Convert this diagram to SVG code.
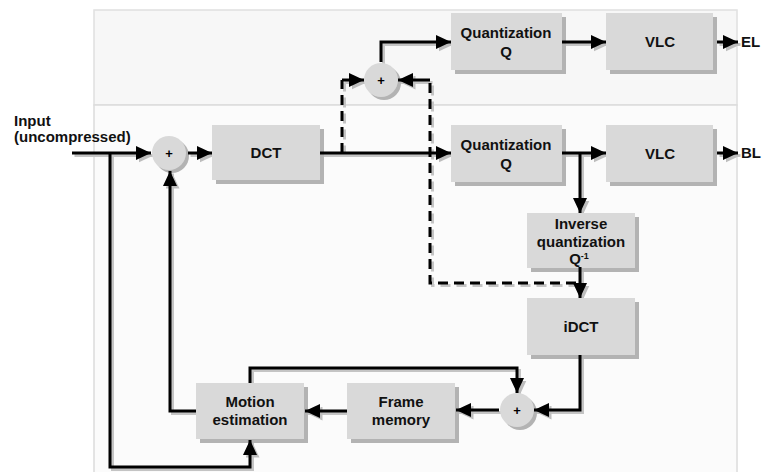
<svg xmlns="http://www.w3.org/2000/svg" width="762" height="472" viewBox="0 0 762 472">
<defs>
<marker id="ah" markerUnits="userSpaceOnUse" markerWidth="16" markerHeight="14" refX="15" refY="7" orient="auto">
<path d="M0,0 L15,7 L0,14 Z" fill="#000"/>
</marker>
<marker id="ahs" markerUnits="userSpaceOnUse" markerWidth="16" markerHeight="14" refX="15" refY="7" orient="auto">
<path d="M0,0 L15,7 L0,14 Z" fill="#bdbdbd"/>
</marker>
</defs>
<style>
.box{fill:#d9d9d9}
.sh{fill:#b3b3b3}
.t{font-family:"Liberation Sans",Arial,sans-serif;font-weight:bold;font-size:15px;fill:#111;text-anchor:middle}
.lbl{font-family:"Liberation Sans",Arial,sans-serif;font-weight:bold;font-size:15px;fill:#111}
.c{fill:none;stroke:#000;stroke-width:3}
.cs{fill:none;stroke:#c4c4c4;stroke-width:3}
.d{stroke-dasharray:10,6}
.plus{font-family:"Liberation Sans",Arial,sans-serif;font-weight:bold;font-size:13px;fill:#000;text-anchor:middle}
</style>
<rect x="0" y="0" width="762" height="472" fill="#fff"/>
<rect x="94" y="10" width="643" height="95" fill="#f7f7f7" stroke="#e0e0e0" stroke-width="1.5"/>
<rect x="94" y="105" width="643" height="380" fill="#fbfbfb" stroke="#dcdcdc" stroke-width="1.5"/>

<g id="connectors-shadow" transform="translate(2.5,2.5)">
<path class="cs" d="M72 153 H151" marker-end="url(#ahs)"/>
<path class="cs" d="M110 153 V467 H250 V440" marker-end="url(#ahs)"/>
<path class="cs" d="M196 411 H170 V171" marker-end="url(#ahs)"/>
<path class="cs" d="M188 153 H212" marker-end="url(#ahs)"/>
<path class="cs" d="M320 153 H451" marker-end="url(#ahs)"/>
<path class="cs d" d="M342 153 V80"/>
<path class="cs" d="M342 80 H364" marker-end="url(#ahs)"/>
<path class="cs" d="M381 62 V42 H451" marker-end="url(#ahs)"/>
<path class="cs" d="M562 42 H606" marker-end="url(#ahs)"/>
<path class="cs" d="M717 42 H738" marker-end="url(#ahs)"/>
<path class="cs" d="M562 153 H606" marker-end="url(#ahs)"/>
<path class="cs" d="M580 153 V213" marker-end="url(#ahs)"/>
<path class="cs" d="M717 153 H738" marker-end="url(#ahs)"/>
<path class="cs" d="M580 267 V298" marker-end="url(#ahs)"/>
<path class="cs d" d="M576 283 H430 V80"/>
<path class="cs" d="M430 80 H398" marker-end="url(#ahs)"/>
<path class="cs" d="M580 355 V410 H534" marker-end="url(#ahs)"/>
<path class="cs" d="M499 410 H456" marker-end="url(#ahs)"/>
<path class="cs" d="M347 411 H305" marker-end="url(#ahs)"/>
<path class="cs" d="M250 383 V368 H517 V393" marker-end="url(#ahs)"/>
</g>

<g id="node-sum1">
<circle class="sh" cx="172" cy="156" r="17"/>
<circle class="box" cx="169" cy="153" r="17"/>
<text class="plus" x="169" y="158">+</text>
</g>
<g id="node-sum-el">
<circle class="sh" cx="384" cy="83" r="17"/>
<circle class="box" cx="381" cy="80" r="17"/>
<text class="plus" x="381" y="85">+</text>
</g>
<g id="node-sum2">
<circle class="sh" cx="520" cy="413" r="17"/>
<circle class="box" cx="517" cy="410" r="17"/>
<text class="plus" x="517" y="415">+</text>
</g>

<g id="node-dct">
<rect class="sh" x="216" y="129" width="108" height="55"/>
<rect class="box" x="212" y="125" width="108" height="55"/>
<text class="t" x="266" y="158">DCT</text>
</g>
<g id="node-q-el">
<rect class="sh" x="455" y="17" width="111" height="57"/>
<rect class="box" x="451" y="13" width="111" height="57"/>
<text class="t" x="506" y="38">Quantization</text>
<text class="t" x="506" y="57">Q</text>
</g>
<g id="node-vlc-el">
<rect class="sh" x="610" y="17" width="107" height="57"/>
<rect class="box" x="606" y="13" width="107" height="57"/>
<text class="t" x="660" y="47">VLC</text>
</g>
<g id="node-q-bl">
<rect class="sh" x="455" y="129" width="111" height="57"/>
<rect class="box" x="451" y="125" width="111" height="57"/>
<text class="t" x="506" y="150">Quantization</text>
<text class="t" x="506" y="169">Q</text>
</g>
<g id="node-vlc-bl">
<rect class="sh" x="610" y="129" width="107" height="57"/>
<rect class="box" x="606" y="125" width="107" height="57"/>
<text class="t" x="660" y="159">VLC</text>
</g>
<g id="node-iq">
<rect class="sh" x="531" y="217" width="108" height="55"/>
<rect class="box" x="527" y="213" width="108" height="55"/>
<text class="t" x="581" y="229">Inverse</text>
<text class="t" x="581" y="247">quantization</text>
<text class="t" x="579" y="264">Q<tspan font-size="9" dy="-5">-1</tspan></text>
</g>
<g id="node-idct">
<rect class="sh" x="531" y="302" width="108" height="57"/>
<rect class="box" x="527" y="298" width="108" height="57"/>
<text class="t" x="581" y="332">iDCT</text>
</g>
<g id="node-me">
<rect class="sh" x="200" y="387" width="108" height="56"/>
<rect class="box" x="196" y="383" width="108" height="56"/>
<text class="t" x="250" y="407">Motion</text>
<text class="t" x="250" y="425">estimation</text>
</g>
<g id="node-fm">
<rect class="sh" x="351" y="387" width="108" height="56"/>
<rect class="box" x="347" y="383" width="108" height="56"/>
<text class="t" x="401" y="407">Frame</text>
<text class="t" x="401" y="425">memory</text>
</g>

<g id="connectors">
<path class="c" d="M72 153 H151" marker-end="url(#ah)"/>
<path class="c" d="M110 153 V467 H250 V440" marker-end="url(#ah)"/>
<path class="c" d="M196 411 H170 V171" marker-end="url(#ah)"/>
<path class="c" d="M188 153 H212" marker-end="url(#ah)"/>
<path class="c" d="M320 153 H451" marker-end="url(#ah)"/>
<path class="c d" d="M342 153 V80"/>
<path class="c" d="M342 80 H364" marker-end="url(#ah)"/>
<path class="c" d="M381 62 V42 H451" marker-end="url(#ah)"/>
<path class="c" d="M562 42 H606" marker-end="url(#ah)"/>
<path class="c" d="M717 42 H738" marker-end="url(#ah)"/>
<path class="c" d="M562 153 H606" marker-end="url(#ah)"/>
<path class="c" d="M580 153 V213" marker-end="url(#ah)"/>
<path class="c" d="M717 153 H738" marker-end="url(#ah)"/>
<path class="c" d="M580 267 V298" marker-end="url(#ah)"/>
<path class="c d" d="M576 283 H430 V80"/>
<path class="c" d="M430 80 H398" marker-end="url(#ah)"/>
<path class="c" d="M580 355 V410 H534" marker-end="url(#ah)"/>
<path class="c" d="M499 410 H456" marker-end="url(#ah)"/>
<path class="c" d="M347 411 H305" marker-end="url(#ah)"/>
<path class="c" d="M250 383 V368 H517 V393" marker-end="url(#ah)"/>
</g>

<g id="labels">
<text class="lbl" x="14" y="126">Input</text>
<text class="lbl" x="14" y="142">(uncompressed)</text>
<text class="lbl" x="741" y="47">EL</text>
<text class="lbl" x="741" y="158">BL</text>
</g>
</svg>
